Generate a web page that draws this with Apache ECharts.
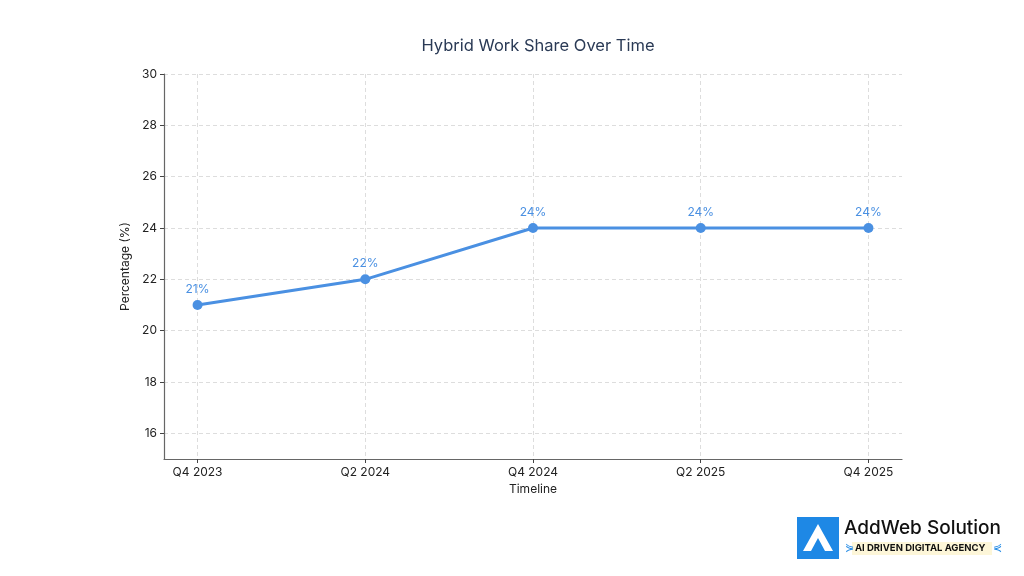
<!DOCTYPE html>
<html>
<head>
<meta charset="utf-8">
<script src="https://cdn.jsdelivr.net/npm/echarts@6/dist/echarts.min.js"></script>
<style>html,body{margin:0;padding:0;background:#fff}#c{width:1024px;height:576px}</style>
</head>
<body>
<div id="c"></div>
<script>
const categories = ['Q4 2023', 'Q2 2024', 'Q4 2024', 'Q2 2025', 'Q4 2025'];
const hybridShare = [21, 22, 24, 24, 24];
const yTicks = [16, 18, 20, 22, 24, 26, 28, 30];
const xTicks = [0, 1, 2, 3, 4];

const FONT = 'Inter, Roboto, sans-serif';
const chart = echarts.init(document.getElementById('c'), null, {renderer: 'canvas'});
chart.setOption({
  animation: false,
  backgroundColor: '#ffffff',
  title: {
    text: 'Hybrid Work Share Over Time',
    left: 533, top: 33, textAlign: 'center',
    textStyle: {fontFamily: FONT, fontSize: 16.5, fontWeight: 'normal', color: '#2a3a55'}
  },
  grid: {left: 164, right: 122, top: 74, bottom: 117},
  xAxis: {
    type: 'value', min: -0.2, max: 4.2,
    name: 'Timeline', nameLocation: 'middle', nameGap: 23,
    nameTextStyle: {fontFamily: FONT, fontSize: 12, color: '#222'},
    axisLine: {show: true, onZero: false, lineStyle: {color: '#666', width: 1.2}},
    axisTick: {show: true, customValues: xTicks, length: 4, lineStyle: {color: '#444'}},
    axisLabel: {customValues: xTicks, formatter: v => categories[v] || '', fontFamily: FONT, fontSize: 12, color: '#222', margin: 7},
    splitLine: {show: true, lineStyle: {type: [4, 3], color: '#dddddd', width: 1}}
  },
  yAxis: {
    type: 'value', min: 15, max: 30,
    name: 'Percentage (%)', nameLocation: 'middle', nameGap: 30, nameRotate: 90,
    nameTextStyle: {fontFamily: FONT, fontSize: 12, color: '#222'},
    axisLine: {show: true, onZero: false, lineStyle: {color: '#666', width: 1.2}},
    axisTick: {show: true, customValues: yTicks, length: 4, lineStyle: {color: '#444'}},
    axisLabel: {customValues: yTicks, fontFamily: FONT, fontSize: 12, color: '#222', margin: 7},
    splitLine: {show: true, lineStyle: {type: [4, 3], color: '#dddddd', width: 1}}
  },
  series: [{
    type: 'line',
    data: hybridShare.map((v, i) => [xTicks[i], v]),
    symbol: 'circle', symbolSize: 10,
    lineStyle: {color: '#4a90e2', width: 3},
    itemStyle: {color: '#4a90e2'},
    label: {show: true, position: 'top', distance: 5, formatter: p => p.value[1] + '%',
      fontFamily: FONT, fontSize: 12, color: '#4a90e2'}
  }],
  graphic: [
    {type: 'rect', left: 797, top: 517, shape: {width: 42, height: 42}, style: {fill: '#1e88e5'}},
    {type: 'polygon', shape: {points: [[803, 551], [818, 524], [833, 551], [825, 551], [818, 538], [811, 551]]}, style: {fill: '#ffffff'}},
    {type: 'polygon', shape: {points: [[812, 551], [818, 541], [824, 551]]}, style: {fill: '#1e88e5'}},
    {type: 'text', left: 844, top: 519, style: {text: 'AddWeb Solution', font: '500 19px ' + FONT, fill: '#111'}},
    {type: 'rect', left: 852, top: 542, shape: {width: 140, height: 13}, style: {fill: '#fdf6d8'}},
    {type: 'text', left: 845, top: 542, style: {text: '⋟', font: '11px ' + FONT, fill: '#1e88e5'}},
    {type: 'text', left: 855, top: 543, style: {text: 'AI DRIVEN DIGITAL AGENCY', font: 'bold 9.5px ' + FONT, fill: '#111'}},
    {type: 'text', left: 993, top: 542, style: {text: '⋞', font: '11px ' + FONT, fill: '#1e88e5'}}
  ]
});
</script>
</body>
</html>
